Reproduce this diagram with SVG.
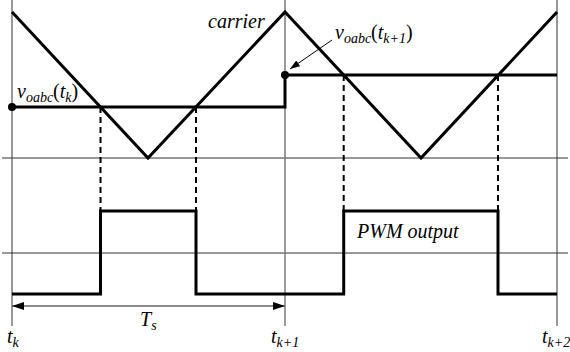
<svg xmlns="http://www.w3.org/2000/svg" width="570" height="352" viewBox="0 0 570 352">
<style>
.grid{stroke:#333;stroke-width:1;fill:none}
.vgray{stroke:#7a7a7a;stroke-width:1.5;fill:none}
.thick{stroke:#000;stroke-width:3;fill:none;stroke-linejoin:miter}
.dash{stroke:#000;stroke-width:2;stroke-dasharray:6 4;fill:none}
.it{font-style:italic}
.sub{font-size:14px;font-style:italic}
</style>
<defs>
<marker id="ah" viewBox="0 0 12 8" refX="12" refY="4" markerWidth="12" markerHeight="8" markerUnits="userSpaceOnUse" orient="auto-start-reverse">
<path d="M0,0 L12,4 L0,8 Z" fill="#000"/>
</marker>
<marker id="ah2" viewBox="0 0 10 7" refX="10" refY="3.5" markerWidth="10" markerHeight="7" markerUnits="userSpaceOnUse" orient="auto">
<path d="M0,0 L10,3.5 L0,7 Z" fill="#000"/>
</marker>
</defs>
<g id="axes">
<line class="grid" x1="2" y1="158" x2="568" y2="158"/>
<line class="grid" x1="2" y1="253" x2="568" y2="253"/>
<line class="grid" x1="12" y1="0" x2="12" y2="326"/>
<line class="vgray" x1="285" y1="0" x2="285" y2="326"/>
<line class="grid" x1="557" y1="0" x2="557" y2="326"/>
</g>
<g id="carrier">
<path class="thick" d="M12,12 L148,158 L285,12 L421,158 L557,12"/>
</g>
<g id="reference">
<path class="thick" d="M12,107 H285 V75 H557"/>
<circle cx="12" cy="107" r="4" fill="#000"/>
<circle cx="285" cy="75" r="4" fill="#000"/>
</g>
<g id="connectors">
<line class="dash" x1="100.5" y1="107" x2="100.5" y2="211"/>
<line class="dash" x1="196" y1="107" x2="196" y2="211"/>
<line class="dash" x1="343.7" y1="75" x2="343.7" y2="211"/>
<line class="dash" x1="498" y1="75" x2="498" y2="211"/>
<line x1="332" y1="40" x2="290" y2="69" stroke="#000" stroke-width="1" marker-end="url(#ah2)"/>
<line x1="12" y1="306" x2="285" y2="306" stroke="#666" stroke-width="1.5" marker-start="url(#ah)" marker-end="url(#ah)"/>
</g>
<g id="pwm">
<path class="thick" d="M12,294 H100.5 V211 H196 V294 H343.7 V211 H498 V294 H557"/>
</g>
<g id="labels" font-family="Liberation Serif, DejaVu Serif, serif" font-size="20" fill="#000">
<text x="208" y="28" class="it">carrier</text>
<text x="17" y="98"><tspan class="it">v</tspan><tspan class="sub" dy="4">oabc</tspan><tspan dy="-4">(</tspan><tspan class="it">t</tspan><tspan class="sub" dy="4">k</tspan><tspan dy="-4">)</tspan></text>
<text x="335" y="39"><tspan class="it">v</tspan><tspan class="sub" dy="4">oabc</tspan><tspan dy="-4">(</tspan><tspan class="it">t</tspan><tspan class="sub" dy="4">k+1</tspan><tspan dy="-4">)</tspan></text>
<text x="357" y="238" class="it">PWM output</text>
<text x="140" y="326"><tspan class="it">T</tspan><tspan class="sub" dy="4">s</tspan></text>
<text x="7" y="343"><tspan class="it">t</tspan><tspan class="sub" dy="4">k</tspan></text>
<text x="271" y="343"><tspan class="it">t</tspan><tspan class="sub" dy="4">k+1</tspan></text>
<text x="542" y="343"><tspan class="it">t</tspan><tspan class="sub" dy="4">k+2</tspan></text>
</g>
</svg>
